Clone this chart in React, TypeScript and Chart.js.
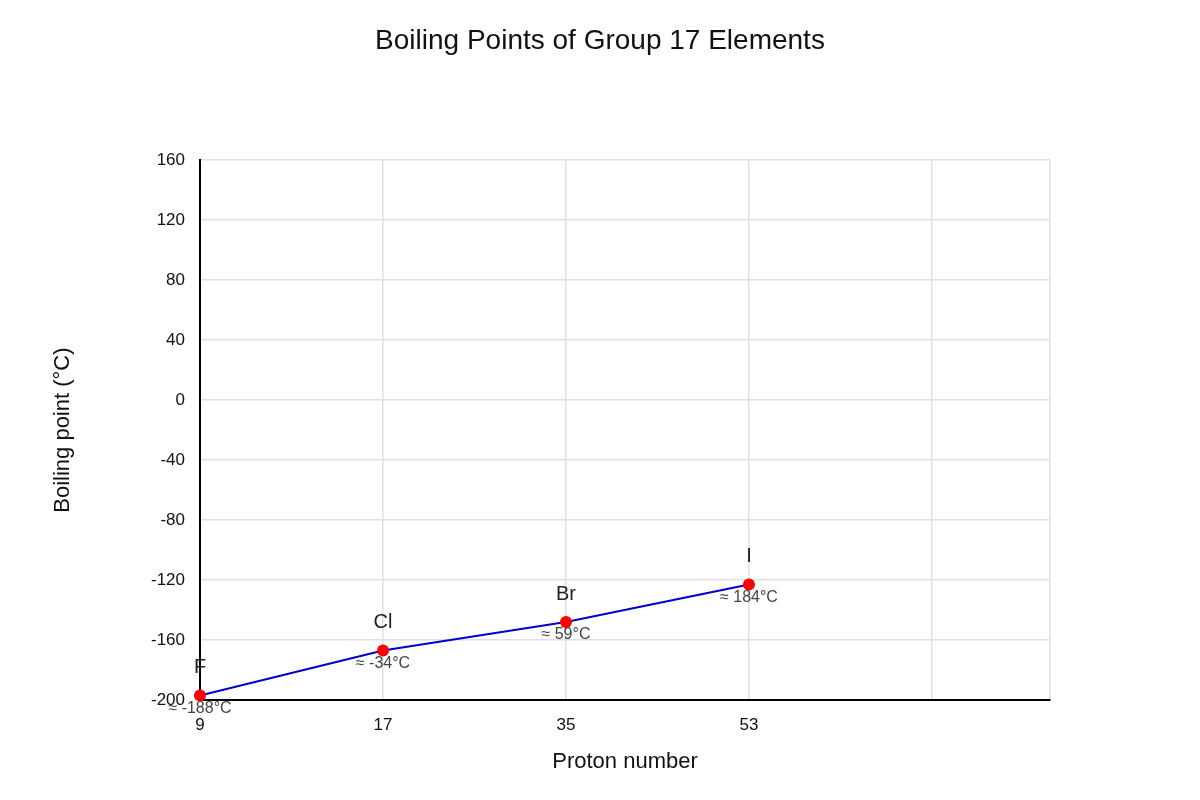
import { useEffect, useRef } from "react";
import { Chart, registerables } from "chart.js";

Chart.register(...registerables);

// data
const elementSymbols = ["F", "Cl", "Br", "I"];
const protonNumbers = ["9", "17", "35", "53"];
const boilingPoints = [-197, -167, -148, -123];
const valueLabels = ["≈ -188°C", "≈ -34°C", "≈ 59°C", "≈ 184°C"];
const chartTitle = "Boiling Points of Group 17 Elements";

const FONT = "'Liberation Sans', Arial, sans-serif";

// element symbol above each point, value note below it, title centred on the canvas
const pointLabels = {
  id: "pointLabels",
  afterDatasetsDraw(chart: any) {
    const ctx = chart.ctx;
    const meta = chart.getDatasetMeta(0);
    meta.data.forEach((pt: any, i: number) => {
      ctx.save();
      ctx.textAlign = "center";
      ctx.textBaseline = "middle";
      ctx.font = `20px ${FONT}`;
      ctx.fillStyle = "#222";
      ctx.fillText(elementSymbols[i], pt.x, pt.y - 28);
      ctx.font = `16px ${FONT}`;
      ctx.fillStyle = "#444";
      ctx.fillText(valueLabels[i], pt.x, pt.y + 13);
      ctx.restore();
    });
  },
  afterDraw(chart: any) {
    const ctx = chart.ctx;
    ctx.save();
    ctx.textAlign = "center";
    ctx.textBaseline = "middle";
    ctx.font = `28px ${FONT}`;
    ctx.fillStyle = "#111";
    ctx.fillText(chartTitle, chart.width / 2, 41);
    ctx.restore();
  },
};

export default function App() {
  const canvasRef = useRef<HTMLCanvasElement | null>(null);
  const chartRef = useRef<Chart | null>(null);

  useEffect(() => {
    document.body.style.margin = "0";
    if (!canvasRef.current) return;
    if (chartRef.current) chartRef.current.destroy();

    chartRef.current = new Chart(canvasRef.current, {
      type: "line",
      data: {
        datasets: [
          {
            data: boilingPoints.map((y, i) => ({ x: i, y })),
            borderColor: "#0000cc",
            borderWidth: 2,
            pointBackgroundColor: "#ff0000",
            pointBorderColor: "#ff0000",
            pointRadius: 6,
            pointBorderWidth: 0,
            clip: false,
          } as any,
        ],
      },
      options: {
        responsive: false,
        animation: false,
        layout: { padding: { left: 0, right: 150, top: 0, bottom: 0 } },
        plugins: {
          legend: { display: false },
          tooltip: { enabled: false },
          // kept for spacing only, the visible title is drawn by pointLabels
          title: {
            display: true,
            text: chartTitle,
            color: "rgba(0,0,0,0)",
            font: { family: FONT, size: 26, weight: "normal" },
            padding: { top: 24, bottom: 105 },
          },
        },
        scales: {
          x: {
            type: "linear",
            min: 0,
            max: 4.645,
            afterFit: (scale: any) => {
              scale.height = 100;
            },
            border: { color: "#000", width: 2 },
            grid: { color: "#e0e0e0", lineWidth: 1.5, drawTicks: false },
            ticks: {
              stepSize: 1,
              padding: 15,
              color: "#111",
              font: { family: FONT, size: 17 },
              callback: (v: any) => protonNumbers[v] ?? "",
            },
            title: {
              display: true,
              text: "Proton number",
              color: "#111",
              font: { family: FONT, size: 22 },
              padding: { top: 0, bottom: 25 },
            },
          },
          y: {
            min: -200,
            max: 160,
            afterFit: (scale: any) => {
              scale.width = 200;
            },
            border: { color: "#000", width: 2 },
            grid: { color: "#e0e0e0", lineWidth: 1.5, drawTicks: false },
            ticks: {
              stepSize: 40,
              padding: 15,
              color: "#111",
              font: { family: FONT, size: 17 },
            },
            title: {
              display: true,
              text: "Boiling point (°C)",
              color: "#111",
              font: { family: FONT, size: 22 },
              padding: { top: 50, bottom: 0 },
            },
          },
        },
      },
      plugins: [pointLabels],
    });

    return () => {
      if (chartRef.current) {
        chartRef.current.destroy();
        chartRef.current = null;
      }
    };
  }, []);

  return <canvas ref={canvasRef} width={1200} height={800}></canvas>;
}
